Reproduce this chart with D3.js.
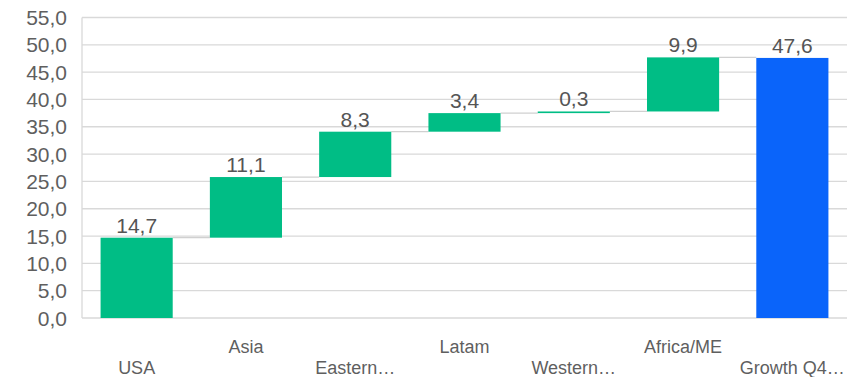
<!DOCTYPE html>
<html><head><meta charset="utf-8">
<script src="https://cdn.jsdelivr.net/npm/d3@7"></script>
<style>
body{margin:0;background:#fff;}
svg{display:block;font-family:"Liberation Sans",Arial,sans-serif;}
</style></head>
<body><svg id="c" width="847" height="377"></svg>
<script>
const categories = ["USA","Asia","Eastern…","Latam","Western…","Africa/ME","Growth Q4…"];
const values = [14.7, 11.1, 8.3, 3.4, 0.3, 9.9, 47.6];
const isTotal = [false,false,false,false,false,false,true];
const yTicks = [0,5,10,15,20,25,30,35,40,45,50,55];

const svg = d3.select("#c");
const W = 847, H = 377;
const x = d3.scaleBand().domain(categories).range([82, 847]).paddingInner(0.34).paddingOuter(0.17);
const y = d3.scaleLinear().domain([0,55]).range([318, 17.5]);
const fmt = v => d3.format(".1f")(v).replace(".", ",");

let cum = 0;
const bars = categories.map((c,i) => {
  let start, end;
  if (isTotal[i]) { start = 0; end = values[i]; }
  else { start = cum; end = cum + values[i]; cum = end; }
  return {c, v: values[i], start, end, total: isTotal[i]};
});

svg.append("g").selectAll("line").data(yTicks).join("line")
  .attr("x1", 82).attr("x2", W).attr("y1", d=>y(d)).attr("y2", d=>y(d))
  .attr("stroke", "#d9d9d9").attr("stroke-width", 1.3);
svg.append("line").attr("x1",82).attr("x2",82).attr("y1",y(55)).attr("y2",y(0))
  .attr("stroke","#d9d9d9").attr("stroke-width",1.3);

svg.append("g").selectAll("text").data(yTicks).join("text")
  .attr("x", 67).attr("y", d=>y(d)).attr("dy","0.36em")
  .attr("text-anchor","end").attr("font-size",21).attr("fill","#5f5f5f")
  .text(d=>fmt(d));

svg.append("g").selectAll("line").data(bars.slice(0,-1)).join("line")
  .attr("x1", d=>x(d.c)+x.bandwidth()).attr("x2", (d,i)=>x(bars[i+1].c))
  .attr("y1", d=>y(d.end)).attr("y2", d=>y(d.end))
  .attr("stroke","#d0d0d0").attr("stroke-width",1.3);

svg.append("g").selectAll("rect").data(bars).join("rect")
  .attr("x", d=>x(d.c)).attr("width", x.bandwidth())
  .attr("y", d=>y(Math.max(d.start,d.end)))
  .attr("height", d=>Math.max(1.5, Math.abs(y(d.start)-y(d.end))))
  .attr("fill", d=>d.total ? "#0a64fa" : "#00bd85");

svg.append("g").selectAll("text").data(bars).join("text")
  .attr("x", d=>x(d.c)+x.bandwidth()/2).attr("y", d=>y(Math.max(d.start,d.end))-5)
  .attr("text-anchor","middle").attr("font-size",21).attr("fill","#555555")
  .text(d=>fmt(d.v));

svg.append("g").selectAll("text").data(categories).join("text")
  .attr("x", d=>x(d)+x.bandwidth()/2).attr("y", (d,i)=> i%2===0 ? 368 : 347).attr("dy","0.36em")
  .attr("text-anchor","middle").attr("font-size",18).attr("fill","#5f5f5f")
  .text(d=>d);
</script></body></html>
